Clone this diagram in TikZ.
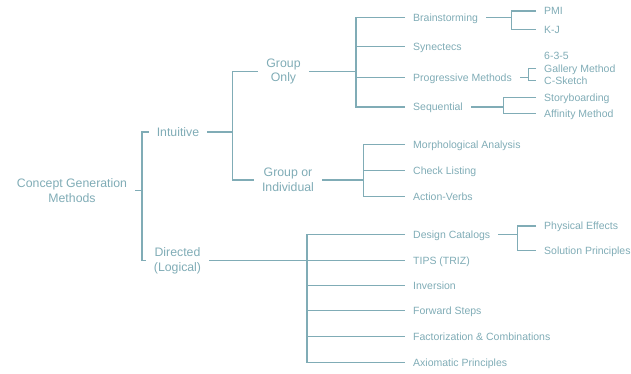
\documentclass[tikz,border=0pt]{standalone}
\usepackage{fontspec}
\setmainfont{Liberation Sans}
\definecolor{tealgrey}{RGB}{128,172,182}
\begin{document}
\begin{tikzpicture}[x=1pt,y=-1pt,
  every node/.style={text=tealgrey, inner xsep=8pt, inner ysep=1pt},
  big/.style={font=\fontsize{12.3}{14.6}\selectfont, align=center},
  leaf/.style={font=\fontsize{10.5}{12.6}\selectfont, anchor=west, text height=0.85em, text depth=0.1em},
  conn/.style={draw=tealgrey, line width=1.1pt}]
\useasboundingbox (0,0) rectangle (631,373);
% main nodes
\node[big] (root) at (72,190.5) {Concept Generation\\Methods};
\node[big] (intu) at (178,132) {Intuitive};
\node[big] (dir) at (177.5,260.7) {Directed\\(Logical)};
\node[big] (gonly) at (283.5,71.5) {Group\\Only};
\node[big] (gind) at (288,180) {Group or\\Individual};
% group only leaves
\node[leaf] (brain) at (405,17.3) {Brainstorming};
\node[leaf] (syn) at (405,46.7) {Synectecs};
\node[leaf] (prog) at (405,77.5) {Progressive Methods};
\node[leaf] (seq) at (405,107) {Sequential};
\node[leaf] (pmi) at (536,11) {PMI};
\node[leaf] (kj) at (536,29.3) {K-J};
\node[leaf] (six) at (536,55.5) {6-3-5};
\node[leaf] (gal) at (536,68.8) {Gallery Method};
\node[leaf] (csk) at (536,80.8) {C-Sketch};
\node[leaf] (story) at (536,97.5) {Storyboarding};
\node[leaf] (aff) at (536,113.3) {Affinity Method};
% group or individual leaves
\node[leaf] (morph) at (405,144.3) {Morphological Analysis};
\node[leaf] (check) at (405,170.7) {Check Listing};
\node[leaf] (act) at (405,196.7) {Action-Verbs};
% directed leaves
\node[leaf] (dcat) at (405,234.7) {Design Catalogs};
\node[leaf] (tips) at (405,260.7) {TIPS (TRIZ)};
\node[leaf] (inv) at (405,285.7) {Inversion};
\node[leaf] (fwd) at (405,310.7) {Forward Steps};
\node[leaf] (fac) at (405,336.7) {Factorization \& Combinations};
\node[leaf] (axi) at (405,362.7) {Axiomatic Principles};
\node[leaf] (phys) at (536,226) {Physical Effects};
\node[leaf] (sol) at (536,250.3) {Solution Principles};
% junction coordinates
\coordinate (jR) at (142,0);
\coordinate (jI) at (232.5,0);
\coordinate (jGO) at (356,0);
\coordinate (jB) at (511.7,0);
\coordinate (jP) at (528.3,0);
\coordinate (jS) at (503.3,0);
\coordinate (jGI) at (363.3,0);
\coordinate (jD) at (307,0);
\coordinate (jDC) at (517.3,0);
% connectors
\draw[conn] (root.east) -- (root.east -| jR) |- (intu.west);
\draw[conn] (root.east -| jR) |- (dir.west);
\draw[conn] (intu.east) -- (intu.east -| jI) |- (gonly.west);
\draw[conn] (intu.east -| jI) |- (gind.west);
\draw[conn] (gonly.east) -- (gonly.east -| jGO);
\draw[conn] (brain.west) -| (jGO |- seq.west) -- (seq.west);
\draw[conn] (jGO |- syn.west) -- (syn.west);
\draw[conn] (jGO |- prog.west) -- (prog.west);
\draw[conn] (brain.east) -- (brain.east -| jB);
\draw[conn] (pmi.west) -| (jB |- kj.west) -- (kj.west);
\draw[conn] (prog.east) -- (prog.east -| jP);
\draw[conn] (gal.west) -| (jP |- csk.west) -- (csk.west);
\draw[conn] (seq.east) -- (seq.east -| jS);
\draw[conn] (story.west) -| (jS |- aff.west) -- (aff.west);
\draw[conn] (gind.east) -- (gind.east -| jGI);
\draw[conn] (morph.west) -| (jGI |- act.west) -- (act.west);
\draw[conn] (jGI |- check.west) -- (check.west);
\draw[conn] (dir.east) -- (tips.west);
\draw[conn] (dcat.west) -| (jD |- axi.west) -- (axi.west);
\draw[conn] (jD |- inv.west) -- (inv.west);
\draw[conn] (jD |- fwd.west) -- (fwd.west);
\draw[conn] (jD |- fac.west) -- (fac.west);
\draw[conn] (dcat.east) -- (dcat.east -| jDC);
\draw[conn] (phys.west) -| (jDC |- sol.west) -- (sol.west);
\end{tikzpicture}
\end{document}
